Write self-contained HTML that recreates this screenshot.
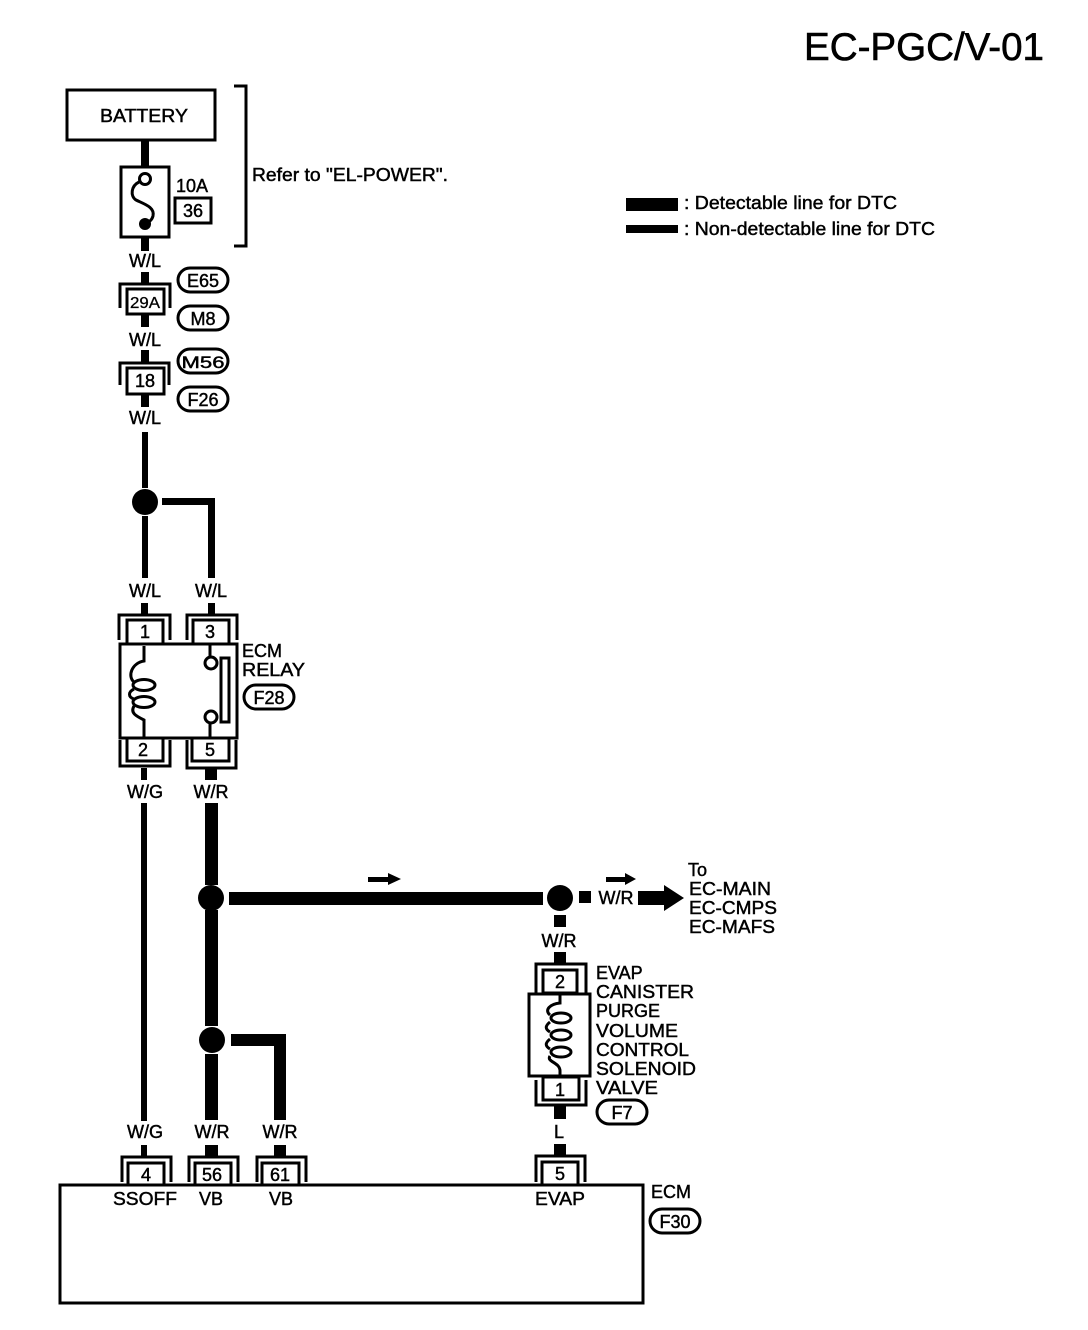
<!DOCTYPE html>
<html><head><meta charset="utf-8"><style>
html,body{margin:0;padding:0;background:#fff}
svg{display:block}
text{font-family:"Liberation Sans",sans-serif;font-size:18px;fill:#000;stroke:#000;stroke-width:.45}
.m{text-anchor:middle}
.n{font-size:18px}
.l{fill:none;stroke:#000;stroke-width:3}
.o{fill:#fff;stroke:#000;stroke-width:3}
</style></head><body>
<svg width="1088" height="1330" viewBox="0 0 1088 1330" xmlns="http://www.w3.org/2000/svg">
<text x="804" y="60" style="font-size:39px;stroke-width:.6" textLength="240" lengthAdjust="spacingAndGlyphs">EC-PGC/V-01</text>

<!-- thin wires -->
<g fill="#000">
<rect x="141" y="140" width="8" height="28"/>
<rect x="141" y="237" width="8" height="14"/>
<rect x="141" y="272" width="8" height="12"/>
<rect x="141" y="314" width="8" height="13"/>
<rect x="141" y="350" width="8" height="13"/>
<rect x="141" y="394" width="8" height="13"/>
<rect x="142" y="432" width="6" height="56"/>
<rect x="142" y="516" width="6" height="62"/>
<path d="M162 498H215V578H208V505H162Z"/>
<rect x="141" y="603" width="7" height="11"/>
<rect x="208" y="603" width="7" height="11"/>
<rect x="141" y="768" width="6" height="12"/>
<rect x="141" y="803" width="6" height="318"/>
<rect x="141" y="1145" width="6" height="12"/>
<rect x="205" y="768" width="12" height="12"/>
<rect x="205" y="803" width="13" height="82"/>
<rect x="229" y="892" width="314" height="13"/>
<rect x="205" y="910" width="13" height="116"/>
<rect x="205" y="1054" width="13" height="66"/>
<path d="M231 1034H286V1120H274V1046H231Z"/>
<rect x="205" y="1145" width="13" height="12"/>
<rect x="274" y="1145" width="12" height="12"/>
<rect x="579" y="891" width="12" height="12"/>
<rect x="554" y="915" width="12" height="12"/>
<rect x="554" y="952" width="12" height="12"/>
<rect x="554" y="1105" width="12" height="14"/>
<rect x="554" y="1144" width="12" height="12"/>
<path d="M638 891H664V885L684 898L664 911V905H638Z"/>
<path d="M368 877H388V873L401 879L388 885V882H368Z"/>
<path d="M606 877H625V873L636 879L625 885V882H606Z"/>
<circle cx="145" cy="502" r="13"/>
<circle cx="211" cy="898" r="13"/>
<circle cx="560" cy="898" r="13"/>
<circle cx="212" cy="1040" r="13"/>
<!-- legend -->
<rect x="626" y="198" width="52" height="13"/>
<rect x="626" y="225" width="52" height="8"/>
</g>

<!-- battery and fuse -->
<rect x="67" y="90" width="148" height="50" class="l"/>
<text x="144" y="122" class="m" textLength="88" lengthAdjust="spacingAndGlyphs">BATTERY</text>
<path d="M234 86H246V246H234" class="l"/>
<rect x="121" y="167" width="48" height="70" class="l"/>
<circle cx="145" cy="179" r="5.5" class="o"/>
<path d="M139 182C131 186 130 196 136 200C144 204 155 207 153 216C152 220 149 222 146 224" class="l"/>
<circle cx="145" cy="224" r="6" fill="#000"/>
<text x="176" y="192" textLength="32" lengthAdjust="spacingAndGlyphs">10A</text>
<rect x="175" y="198" width="36" height="25" class="l"/>
<text x="193" y="217" class="m n">36</text>
<text x="252" y="181" textLength="196" lengthAdjust="spacingAndGlyphs">Refer to "EL-POWER".</text>

<!-- legend text -->
<text x="684" y="209" textLength="213" lengthAdjust="spacingAndGlyphs">: Detectable line for DTC</text>
<text x="684" y="235" textLength="251" lengthAdjust="spacingAndGlyphs">: Non-detectable line for DTC</text>

<!-- wire labels upper -->
<text x="145" y="267" class="m">W/L</text>
<text x="145" y="346" class="m">W/L</text>
<text x="145" y="424" class="m">W/L</text>
<text x="145" y="597" class="m">W/L</text>
<text x="211" y="597" class="m">W/L</text>
<text x="145" y="798" class="m">W/G</text>
<text x="211" y="798" class="m">W/R</text>
<text x="145" y="1138" class="m">W/G</text>
<text x="212" y="1138" class="m">W/R</text>
<text x="280" y="1138" class="m">W/R</text>
<text x="559" y="947" class="m">W/R</text>
<text x="616" y="904" class="m">W/R</text>
<text x="559" y="1138" class="m">L</text>

<!-- 29A / 18 -->
<path d="M120 308V284H170V308" class="l"/>
<rect x="127" y="289" width="37" height="25" class="o"/>
<text x="145" y="308" class="m" style="font-size:16px;stroke-width:.3" textLength="30" lengthAdjust="spacingAndGlyphs">29A</text>
<path d="M120 385V363H169V385" class="l"/>
<rect x="127" y="368" width="37" height="26" class="o"/>
<text x="145" y="387" class="m n">18</text>

<!-- pills -->
<g>
<rect x="178" y="268" width="50" height="24" rx="12" class="l"/>
<rect x="178" y="306" width="50" height="24" rx="12" class="l"/>
<rect x="178" y="349" width="50" height="24" rx="12" class="l"/>
<rect x="178" y="387" width="50" height="24" rx="12" class="l"/>
<rect x="244" y="685" width="50" height="24" rx="12" class="l"/>
<rect x="597" y="1100" width="50" height="24" rx="12" class="l"/>
<rect x="650" y="1209" width="50" height="24" rx="12" class="l"/>
</g>
<text x="203" y="287" class="m">E65</text>
<text x="203" y="325" class="m">M8</text>
<text x="203" y="368" class="m" style="font-size:17px" textLength="43" lengthAdjust="spacingAndGlyphs">M56</text>
<text x="203" y="406" class="m">F26</text>
<text x="269" y="704" class="m">F28</text>
<text x="622" y="1119" class="m">F7</text>
<text x="675" y="1228" class="m">F30</text>

<!-- relay -->
<path d="M119 640V615H170V640" class="l"/>
<path d="M187 640V615H237V640" class="l"/>
<rect x="127" y="620" width="36" height="24" class="o"/>
<rect x="193" y="620" width="36" height="24" class="o"/>
<text x="145" y="638" class="m n">1</text>
<text x="210" y="638" class="m n">3</text>
<rect x="120" y="644" width="117" height="94" class="l"/>
<ellipse cx="144" cy="685" rx="11" ry="5.5" class="l"/>
<ellipse cx="144" cy="702" rx="11" ry="5.5" class="l"/>
<path d="M144 646V661C132 663 127 676 134 682M134 689C128 692 128 697 134 699M134 706C130 713 136 716 144 720V737" class="l"/>
<circle cx="211" cy="663" r="6" class="o"/>
<circle cx="211" cy="717" r="6" class="o"/>
<path d="M210 645V657M210 723V737" class="l"/>
<rect x="221" y="658" width="8" height="64" class="l"/>
<path d="M120 740V766H170V740" class="l"/>
<path d="M187 740V768H236V740" class="l"/>
<rect x="127" y="738" width="36" height="23" class="o"/>
<rect x="192" y="738" width="37" height="23" class="o"/>
<text x="143" y="756" class="m n">2</text>
<text x="210" y="756" class="m n">5</text>
<text x="242" y="657">ECM</text>
<text x="242" y="676" textLength="63" lengthAdjust="spacingAndGlyphs">RELAY</text>

<!-- to -->
<text x="688" y="876">To</text>
<text x="689" y="895" textLength="82" lengthAdjust="spacingAndGlyphs">EC-MAIN</text>
<text x="689" y="914" textLength="88" lengthAdjust="spacingAndGlyphs">EC-CMPS</text>
<text x="689" y="933" textLength="86" lengthAdjust="spacingAndGlyphs">EC-MAFS</text>

<!-- solenoid -->
<path d="M536 993V964H586V993" class="l"/>
<rect x="543" y="970" width="34" height="23" class="o"/>
<text x="560" y="988" class="m n">2</text>
<rect x="529" y="994" width="61" height="82" class="l"/>
<ellipse cx="561" cy="1018" rx="10" ry="5" class="l"/>
<ellipse cx="561" cy="1035" rx="10" ry="5" class="l"/>
<ellipse cx="561" cy="1052" rx="10" ry="5" class="l"/>
<path d="M560 994V1003C550 1004 544 1010 550 1015M550 1022C545 1026 545 1029 550 1032M550 1039C545 1043 545 1046 550 1049M550 1056C546 1062 560 1062 560 1071V1076" class="l"/>
<path d="M536 1080V1105H586V1080" class="l"/>
<rect x="543" y="1077" width="36" height="23" class="o"/>
<text x="560" y="1096" class="m n">1</text>
<text x="596" y="979">EVAP</text>
<text x="596" y="998" textLength="98" lengthAdjust="spacingAndGlyphs">CANISTER</text>
<text x="596" y="1017">PURGE</text>
<text x="596" y="1037" textLength="82" lengthAdjust="spacingAndGlyphs">VOLUME</text>
<text x="596" y="1056" textLength="93" lengthAdjust="spacingAndGlyphs">CONTROL</text>
<text x="596" y="1075" textLength="100" lengthAdjust="spacingAndGlyphs">SOLENOID</text>
<text x="596" y="1094" textLength="62" lengthAdjust="spacingAndGlyphs">VALVE</text>

<!-- ECM connectors -->
<path d="M122 1182V1157H171V1182" class="l"/>
<path d="M189 1182V1157H238V1182" class="l"/>
<path d="M257 1182V1157H306V1182" class="l"/>
<path d="M536 1182V1156H585V1182" class="l"/>
<rect x="128" y="1163" width="36" height="22" class="o"/>
<rect x="195" y="1163" width="36" height="22" class="o"/>
<rect x="262" y="1163" width="37" height="22" class="o"/>
<rect x="542" y="1162" width="36" height="23" class="o"/>
<text x="146" y="1181" class="m n">4</text>
<text x="212" y="1181" class="m n">56</text>
<text x="280" y="1181" class="m n">61</text>
<text x="560" y="1180" class="m n">5</text>
<rect x="60" y="1185" width="583" height="118" class="l"/>
<text x="145" y="1205" class="m" textLength="64" lengthAdjust="spacingAndGlyphs">SSOFF</text>
<text x="211" y="1205" class="m">VB</text>
<text x="281" y="1205" class="m">VB</text>
<text x="560" y="1205" class="m" textLength="50" lengthAdjust="spacingAndGlyphs">EVAP</text>
<text x="651" y="1198">ECM</text>
</svg>
</body></html>
